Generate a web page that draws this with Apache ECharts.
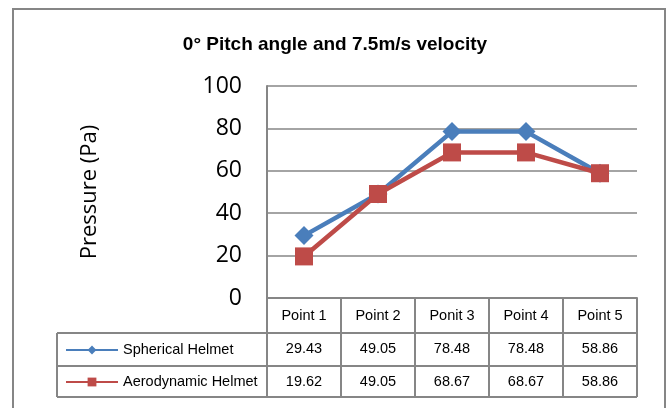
<!DOCTYPE html>
<html>
<head>
<meta charset="utf-8">
<script src="https://cdn.jsdelivr.net/npm/echarts@6/dist/echarts.min.js"></script>
<style>
  html, body { margin: 0; padding: 0; background: #fff; }
  #chart { width: 670px; height: 408px; }
</style>
</head>
<body>
<div id="chart"></div>
<script>
var categories = ['Point 1', 'Point 2', 'Ponit 3', 'Point 4', 'Point 5'];
var spherical = [29.43, 49.05, 78.48, 78.48, 58.86];
var aerodynamic = [19.62, 49.05, 68.67, 68.67, 58.86];
var seriesNames = ['Spherical Helmet', 'Aerodynamic Helmet'];
var yTicks = { min: 0, max: 100, interval: 20 };

var grey = '#868686';
var narrow = "'Liberation Sans Narrow', 'Liberation Sans', sans-serif";

var myChart = echarts.init(document.getElementById('chart'));

// table rows sit under the x axis, one line per row
function cellText(value, idx) {
	return '{h|' + value + '}\n{v|' + spherical[idx].toFixed(2) + '}\n{v|' + aerodynamic[idx].toFixed(2) + '}';
}

var option = {
	animation: false,
	title: {
		text: '0° Pitch angle and 7.5m/s velocity',
		left: 'center',
		top: 30,
		textStyle: { fontFamily: narrow, fontSize: 19, fontWeight: 'bold', color: '#000' }
	},
	legend: {
		orient: 'vertical',
		left: 65,
		top: 341,
		padding: 0,
		itemWidth: 52,
		itemHeight: 11,
		itemGap: 14,
		data: seriesNames,
		lineStyle: { width: 2 },
		textStyle: { fontFamily: narrow, fontSize: 14.5, color: '#000', lineHeight: 18 }
	},
	grid: { left: 267, right: 33, top: 86, bottom: 110 },
	xAxis: {
		type: 'category',
		data: categories,
		boundaryGap: true,
		axisLine: { lineStyle: { color: grey, width: 2 } },
		axisTick: { show: true, interval: 0, length: 99, lineStyle: { color: grey, width: 2 } },
		axisLabel: {
			interval: 0,
			margin: 1,
			formatter: cellText,
			rich: {
				h: { fontFamily: narrow, fontSize: 14.5, color: '#000', lineHeight: 33 },
				v: { fontFamily: narrow, fontSize: 14.5, color: '#000', lineHeight: 33 }
			}
		}
	},
	yAxis: {
		type: 'value',
		min: yTicks.min,
		max: yTicks.max,
		interval: yTicks.interval,
		name: 'Pressure (Pa)',
		nameLocation: 'middle',
		nameGap: 166,
		nameTextStyle: { fontFamily: 'Open Sans', fontSize: 22, color: '#000' },
		axisLine: { show: true, lineStyle: { color: grey, width: 2 } },
		axisTick: { show: false },
		axisLabel: { margin: 25, fontFamily: 'Open Sans', fontSize: 23, color: '#000' },
		splitLine: { lineStyle: { color: grey, width: 1.5 } }
	},
	graphic: [
		{ type: 'rect', shape: { x: 13, y: 9, width: 652, height: 420 }, style: { fill: 'none', stroke: grey, lineWidth: 2 }, silent: true },
		{ type: 'line', shape: { x1: 57, y1: 333, x2: 637, y2: 333 }, style: { stroke: grey, lineWidth: 2 } },
		{ type: 'line', shape: { x1: 57, y1: 366, x2: 637, y2: 366 }, style: { stroke: grey, lineWidth: 2 } },
		{ type: 'line', shape: { x1: 57, y1: 397, x2: 637, y2: 397 }, style: { stroke: grey, lineWidth: 2 } },
		{ type: 'line', shape: { x1: 57, y1: 333, x2: 57, y2: 397 }, style: { stroke: grey, lineWidth: 2 } }
	],
	series: [
		{
			name: seriesNames[0],
			type: 'line',
			data: spherical,
			symbol: 'diamond',
			symbolSize: 19,
			itemStyle: { color: '#4A7EBB' },
			lineStyle: { color: '#4A7EBB', width: 4.5 }
		},
		{
			name: seriesNames[1],
			type: 'line',
			data: aerodynamic,
			symbol: 'rect',
			symbolSize: 18,
			itemStyle: { color: '#BE4B48' },
			lineStyle: { color: '#BE4B48', width: 4.5 }
		}
	]
};

myChart.setOption(option);
</script>
</body>
</html>
